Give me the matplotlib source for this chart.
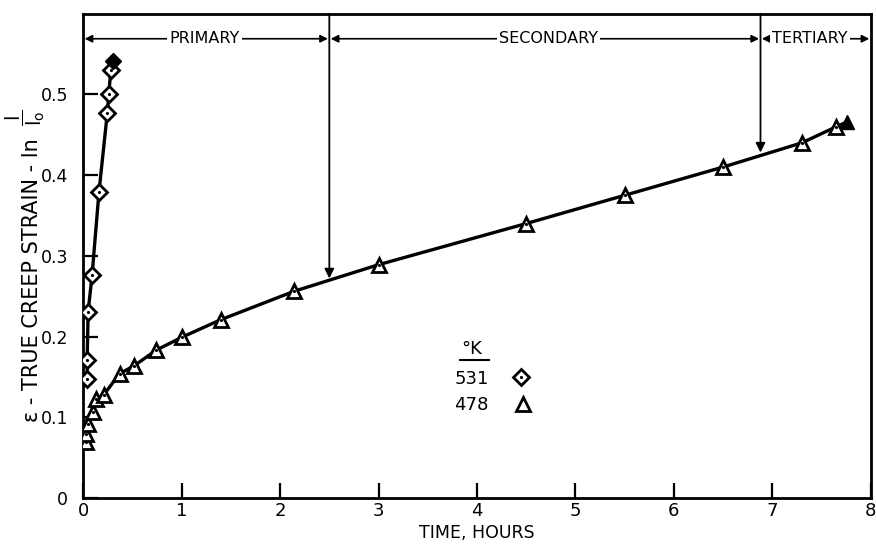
import numpy as np
import matplotlib
matplotlib.use("Agg")
import matplotlib.pyplot as plt

plt.rcParams['font.family'] = ['DejaVu Sans']
plt.rcParams['mathtext.fontset'] = 'dejavusans'

# 531 K test (diamonds), last point is rupture (filled)
t531 = [0.04, 0.04, 0.05, 0.09, 0.16, 0.245, 0.26, 0.28]
e531 = [0.1475, 0.171, 0.231, 0.276, 0.379, 0.4775, 0.501, 0.53]
t531_end = 0.30
e531_end = 0.541

# 478 K test (triangles), last point is rupture (filled)
t478 = [0.03, 0.03, 0.05, 0.10, 0.13, 0.21, 0.37, 0.52, 0.74, 1.0, 1.4,
        2.14, 3.0, 4.5, 5.5, 6.5, 7.3, 7.65]
e478 = [0.069, 0.079, 0.092, 0.106, 0.123, 0.128, 0.154, 0.164, 0.183,
        0.199, 0.221, 0.256, 0.289, 0.34, 0.375, 0.41, 0.44, 0.46]
t478_end = 7.76
e478_end = 0.466

# stage boundaries
stage_x = [2.5, 6.88]
stage_y = [0.272, 0.428]
stage_names = ["PRIMARY", "SECONDARY", "TERTIARY"]
stage_label_x = [1.23, 4.73, 7.38]

xticks = [0, 1, 2, 3, 4, 5, 6, 7, 8]
yticks = [0, 0.1, 0.2, 0.3, 0.4, 0.5]
ytick_labels = ["0", "0.1", "0.2", "0.3", "0.4", "0.5"]

fig = plt.figure(figsize=(8.76, 5.49), dpi=100)
ax = fig.add_axes([0.095, 0.093, 0.899, 0.882])

lw = 2.4
ax.plot(t531 + [t531_end], e531 + [e531_end], color='black', lw=lw, zorder=2)
ax.plot(t478[2:] + [t478_end], e478[2:] + [e478_end], color='black', lw=lw, zorder=2)

ax.plot(t531, e531, ls='none', marker='D', ms=8, mfc='white', mec='black', mew=2, zorder=3)
ax.plot(t531, e531, ls='none', marker='.', ms=2.5, color='black', zorder=4)
ax.plot([t531_end], [e531_end], ls='none', marker='D', ms=8, mfc='black', mec='black', zorder=5)

ax.plot(t478, e478, ls='none', marker='^', ms=10.5, mfc='white', mec='black', mew=2, zorder=3)
ax.plot(t478, e478, ls='none', marker='.', ms=2.5, color='black', zorder=4)
ax.plot([t478_end], [e478_end], ls='none', marker='^', ms=10.5, mfc='black', mec='black', zorder=5)

ax.set_xlim(0, 8)
ax.set_ylim(0, 0.6)

# vertical arrows marking stage transitions
for sx, sy in zip(stage_x, stage_y):
    ax.annotate('', xy=(sx, sy), xytext=(sx, 0.6),
                arrowprops=dict(arrowstyle='-|>', color='black', lw=1.3,
                                mutation_scale=14, shrinkA=0, shrinkB=0))

# stage spans along the top
bounds = [0] + stage_x + [8]
ya = 0.569
for i, name in enumerate(stage_names):
    ax.annotate('', xy=(bounds[i], ya), xytext=(bounds[i + 1], ya),
                arrowprops=dict(arrowstyle='<|-|>', color='black', lw=1.2,
                                mutation_scale=11, shrinkA=1, shrinkB=1))
    ax.text(stage_label_x[i], ya, name, ha='center', va='center', fontsize=11.5,
            bbox=dict(facecolor='white', edgecolor='none', pad=1.5), zorder=6)

# legend block
ax.text(3.95, 0.185, "°K", fontsize=13, ha='center', va='center')
ax.plot([3.83, 4.12], [0.171, 0.171], color='black', lw=1.5)
ax.text(4.12, 0.148, "531", fontsize=13, ha='right', va='center')
ax.text(4.12, 0.115, "478", fontsize=13, ha='right', va='center')
ax.plot([4.45], [0.150], ls='none', marker='D', ms=8, mfc='white', mec='black', mew=2)
ax.plot([4.45], [0.150], ls='none', marker='.', ms=2.5, color='black')
ax.plot([4.47], [0.117], ls='none', marker='^', ms=10.5, mfc='white', mec='black', mew=2)

for side in ['left', 'right', 'top', 'bottom']:
    ax.spines[side].set_linewidth(2.0)

ax.set_xticks(xticks)
ax.set_xticklabels([str(v) for v in xticks])
ax.set_yticks(yticks)
ax.set_yticklabels(ytick_labels)
ax.tick_params(direction='in', length=11, width=1.6, labelsize=13)
ax.tick_params(axis='x', pad=3)
ax.tick_params(axis='y', pad=11, labelsize=12.5)

ax.set_xlabel("TIME, HOURS", fontsize=12.5, labelpad=3)

# y axis title: body text plus raised l/l0 fraction
fig.text(32 / 876, 1 - 280 / 549, "ε - TRUE CREEP STRAIN - ln",
         rotation=90, ha='center', va='center', fontsize=15)
fig.text(25 / 876, 1 - 118 / 549, r"$\dfrac{\mathrm{l}}{\mathrm{l_o}}$",
         rotation=90, ha='center', va='center', fontsize=14)

fig.savefig("out.png", dpi=100)
